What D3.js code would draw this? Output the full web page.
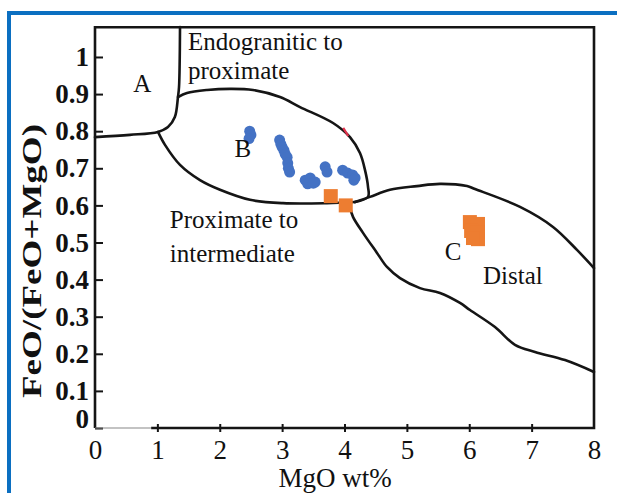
<!DOCTYPE html>
<html><head><meta charset="utf-8">
<script src="https://cdn.jsdelivr.net/npm/d3@7"></script>
<style>
html,body{margin:0;padding:0;background:#fff;}
svg{display:block;}
text{font-family:"Liberation Serif","Times New Roman",serif;fill:#111;}
</style></head><body>
<svg id="chart" width="617" height="493"></svg>
<script>
// ---- data ----
const xTicks = [0,1,2,3,4,5,6,7,8];
const xTickLabels = ["0","1","2","3","4","5","6","7","8"];
const yTicks = [0,0.1,0.2,0.3,0.4,0.5,0.6,0.7,0.8,0.9,1];
const yTickLabels = ["0","0.1","0.2","0.3","0.4","0.5","0.6","0.7","0.8","0.9","1"];
const xTitle = "MgO wt%";
const yTitle = "FeO/(FeO+MgO)";

// blue circles (region B)
const blueMgO   = [2.48,2.50,2.47, 2.96,2.98,3.00,3.03,3.05,3.08,3.09,3.10,3.12, 3.37,3.45,3.53,3.41,3.50, 3.69,3.72, 3.97,4.05,4.13,4.17,4.15];
const blueRatio = [0.800,0.790,0.780, 0.776,0.765,0.757,0.748,0.738,0.730,0.714,0.700,0.690, 0.668,0.674,0.663,0.658,0.660, 0.704,0.690, 0.695,0.687,0.682,0.674,0.668];

// orange squares
const orangeMgO   = [3.78,4.02, 6.01,6.14,6.03,6.14,6.14,6.06];
const orangeRatio = [0.625,0.600, 0.555,0.550,0.531,0.528,0.509,0.512];

// field boundaries [MgO, ratio]
const boundaryA = [[0,0.784],[0.56,0.790],[1.01,0.798],[1.17,0.811],[1.28,0.838],[1.33,0.892],[1.347,0.919],[1.363,1.081]];
const boundaryB = [[1.331,0.892],[1.475,0.903],[1.796,0.911],[2.164,0.914],[2.533,0.911],[2.966,0.892],[3.287,0.865],[3.816,0.822],[4.088,0.784],[4.248,0.741],[4.329,0.695],[4.377,0.650],[4.377,0.623],[4.168,0.609]];
const boundaryBLower = [[4.168,0.609],[3.719,0.606],[3.014,0.606],[2.485,0.615],[2.004,0.642],[1.683,0.668],[1.363,0.709],[1.122,0.763],[1.010,0.798]];
const boundaryCUpper = [[4.168,0.609],[4.409,0.623],[4.729,0.642],[5.162,0.652],[5.531,0.658],[5.964,0.652],[6.092,0.644],[6.814,0.596],[7.343,0.542],[7.727,0.480],[8.0,0.431]];
const boundaryCLower = [[4.088,0.596],[4.136,0.569],[4.297,0.526],[4.521,0.472],[4.681,0.434],[4.890,0.404],[5.210,0.377],[5.531,0.364],[5.852,0.337],[6.012,0.318],[6.413,0.272],[6.733,0.224],[7.054,0.205],[7.535,0.183],[8.0,0.151]];
const redMark = [[3.98,0.809],[4.06,0.787]];

const fieldLabels = ["A","B","C"];
const zoneLabels = ["Endogranitic to","proximate","Proximate to","intermediate","Distal"];

// ---- drawing ----
const svg = d3.select("#chart");
const W = 617, H = 493;
const x = d3.scaleLinear().domain([0,8]).range([95,594]);
const y = d3.scaleLinear().domain([0,1.08]).range([428,27.3]);

// blue outer frame
svg.append("line").attr("x1",7).attr("x2",W).attr("y1",13).attr("y2",13)
  .attr("stroke","#0b6fc1").attr("stroke-width",4);
svg.append("line").attr("x1",9).attr("x2",9).attr("y1",11).attr("y2",H)
  .attr("stroke","#0b6fc1").attr("stroke-width",4);

// boundaries
const line = d3.line().x(d=>x(d[0])).y(d=>y(d[1])).curve(d3.curveCatmullRom.alpha(0.5));
const g = svg.append("g").attr("fill","none").attr("stroke","#151515").attr("stroke-width",2.6)
  .attr("stroke-linejoin","round").attr("stroke-linecap","round");
[boundaryA, boundaryB, boundaryBLower, boundaryCUpper, boundaryCLower].forEach(b=>{
  g.append("path").attr("d", line(b));
});
svg.append("path").attr("d", d3.line().x(d=>x(d[0])).y(d=>y(d[1]))(redMark))
  .attr("stroke","#e0304a").attr("stroke-width",2.2).attr("fill","none");

// y axis (inward ticks)
const yAxis = d3.axisLeft(y).tickValues(yTicks).tickFormat((d,i)=>yTickLabels[i]).tickSizeInner(-8).tickSizeOuter(0).tickPadding(6);
const ya = svg.append("g").attr("transform","translate(95,0)").call(yAxis);
ya.select(".domain").remove();
ya.selectAll(".tick line").attr("stroke","#151515").attr("stroke-width",2);
ya.selectAll(".tick text").attr("font-size",27).attr("font-weight","bold")
  .attr("font-family","Liberation Serif, serif").attr("fill","#222");
ya.selectAll(".tick").filter(d=>d===0).select("text").attr("dy","-0.02em");

// x axis (crossing ticks)
const xAxis = d3.axisBottom(x).tickValues(xTicks).tickFormat((d,i)=>xTickLabels[i]).tickSizeInner(4).tickSizeOuter(0).tickPadding(8);
const xa = svg.append("g").attr("transform","translate(0,428)").call(xAxis);
xa.select(".domain").remove();
xa.selectAll(".tick line").attr("y1",-4).attr("stroke","#151515").attr("stroke-width",2)
  .filter(d=>d===0||d===8).remove();
xa.selectAll(".tick text").attr("font-size",27)
  .attr("font-family","Liberation Serif, serif").attr("fill","#222");

// plot frame
const fr = svg.append("g").attr("stroke","#151515").attr("stroke-width",2.6).attr("fill","none");
fr.append("path").attr("d",`M${x(0)},${y(0)}V${y(1.08)}H${x(8)}V${y(0)}H${x(0.9)}`);
fr.append("line").attr("x1",x(0)).attr("x2",x(0.9)).attr("y1",y(0)).attr("y2",y(0))
  .attr("stroke","#888").attr("stroke-width",1.2);

// points
svg.append("g").selectAll("circle").data(blueMgO).join("circle")
  .attr("cx",(d)=>x(d)).attr("cy",(d,i)=>y(blueRatio[i])).attr("r",5.5).attr("fill","#4472C4");
const sq = 14;
svg.append("g").selectAll("rect").data(orangeMgO).join("rect")
  .attr("x",d=>x(d)-sq/2).attr("y",(d,i)=>y(orangeRatio[i])-sq/2).attr("width",sq).attr("height",sq).attr("fill","#ED7D31");

// labels
const lab = svg.append("g").attr("font-size",25);
lab.append("text").attr("x",x(0.76)).attr("y",y(0.906)).attr("text-anchor","middle").text(fieldLabels[0]);
lab.append("text").attr("x",x(2.37)).attr("y",y(0.730)).attr("text-anchor","middle").text(fieldLabels[1]);
lab.append("text").attr("x",x(5.74)).attr("y",y(0.453)).attr("text-anchor","middle").attr("fill","#444").text(fieldLabels[2]);
lab.append("text").attr("x",x(1.49)).attr("y",y(1.02)).text(zoneLabels[0]);
lab.append("text").attr("x",x(1.49)).attr("y",y(0.94)).text(zoneLabels[1]);
lab.append("text").attr("x",x(1.20)).attr("y",y(0.539)).text(zoneLabels[2]);
lab.append("text").attr("x",x(1.20)).attr("y",y(0.447)).text(zoneLabels[3]);
lab.append("text").attr("x",x(6.22)).attr("y",y(0.388)).text(zoneLabels[4]);

// axis titles
svg.append("text").attr("x",335).attr("y",487).attr("text-anchor","middle").attr("font-size",27).text(xTitle);
svg.append("text").attr("transform","translate(41,261) rotate(-90)").attr("text-anchor","middle")
  .attr("font-size",27).attr("font-weight","bold").attr("fill","#222")
  .attr("textLength",274).attr("lengthAdjust","spacingAndGlyphs").text(yTitle);
</script>
</body></html>
